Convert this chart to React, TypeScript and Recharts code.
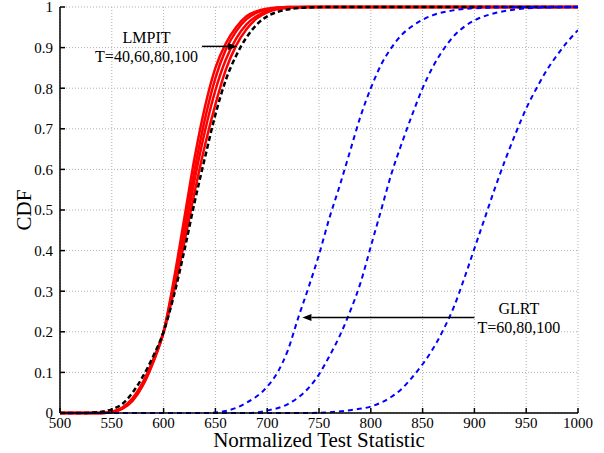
import React from 'react';
import { LineChart, Line, XAxis, YAxis, CartesianGrid, ReferenceLine, ReferenceDot, Label } from 'recharts';

// Tick labels
const xTicks = [500, 550, 600, 650, 700, 750, 800, 850, 900, 950, 1000];
const yTicks = [0, 0.1, 0.2, 0.3, 0.4, 0.5, 0.6, 0.7, 0.8, 0.9, 1];

// LMPIT (T=40,60,80,100) — red solid curves
const lmpitX = [500, 530, 540, 550, 560, 570, 580, 590, 600, 610, 620, 630, 640, 650, 660, 670, 680, 690, 700, 710, 720, 740, 1000];
const lmpitT40 = [0, 0, 0, 0.002, 0.01, 0.03, 0.068, 0.125, 0.2, 0.33, 0.48, 0.63, 0.755, 0.85, 0.91, 0.95, 0.977, 0.99, 0.996, 0.999, 1, 1, 1];
const lmpitT60 = [0, 0, 0, 0.002, 0.011, 0.032, 0.07, 0.127, 0.2, 0.32, 0.46, 0.6, 0.725, 0.825, 0.895, 0.94, 0.97, 0.986, 0.994, 0.998, 1, 1, 1];
const lmpitT80 = [0, 0, 0, 0.003, 0.012, 0.034, 0.073, 0.13, 0.2, 0.31, 0.44, 0.575, 0.695, 0.795, 0.87, 0.922, 0.957, 0.978, 0.99, 0.996, 0.999, 1, 1];
const lmpitT100 = [0, 0, 0, 0.003, 0.013, 0.036, 0.076, 0.132, 0.2, 0.3, 0.42, 0.545, 0.66, 0.76, 0.845, 0.905, 0.945, 0.972, 0.987, 0.995, 0.998, 1, 1];

// Asymptotic reference — black dashed
const asympX = [500, 520, 530, 540, 550, 560, 570, 580, 590, 600, 610, 620, 630, 640, 650, 660, 670, 680, 690, 700, 710, 720, 740, 760, 1000];
const asympY = [0, 0, 0.001, 0.003, 0.009, 0.022, 0.05, 0.09, 0.14, 0.2, 0.29, 0.4, 0.52, 0.63, 0.735, 0.82, 0.88, 0.925, 0.957, 0.977, 0.988, 0.994, 0.999, 1, 1];

// GLRT (T=60,80,100) — blue dashed curves
const glrtAX = [500, 640, 660, 680, 700, 710, 720, 730, 740, 750, 760, 770, 780, 790, 800, 810, 820, 830, 840, 860, 880, 900, 950, 1000];
const glrtAY = [0, 0, 0.005, 0.025, 0.065, 0.1, 0.155, 0.235, 0.31, 0.39, 0.48, 0.56, 0.645, 0.73, 0.8, 0.858, 0.9, 0.932, 0.953, 0.98, 0.992, 0.997, 1, 1];
const glrtBX = [500, 680, 700, 720, 740, 750, 760, 770, 780, 790, 800, 810, 820, 830, 840, 850, 860, 870, 880, 890, 900, 920, 940, 960, 1000];
const glrtBY = [0, 0, 0.006, 0.022, 0.062, 0.095, 0.14, 0.19, 0.25, 0.32, 0.41, 0.5, 0.59, 0.665, 0.735, 0.8, 0.853, 0.895, 0.928, 0.951, 0.967, 0.985, 0.994, 0.998, 1];
const glrtCX = [500, 740, 760, 780, 800, 820, 830, 840, 850, 860, 870, 880, 890, 900, 910, 920, 930, 940, 950, 960, 970, 980, 990, 1000];
const glrtCY = [0, 0, 0.002, 0.007, 0.016, 0.04, 0.06, 0.088, 0.12, 0.158, 0.205, 0.26, 0.33, 0.405, 0.48, 0.555, 0.625, 0.69, 0.75, 0.8, 0.845, 0.882, 0.915, 0.943];

const toPoints = (xs: number[], ys: number[]) => xs.map((x, i) => ({ x, y: ys[i] }));

const FONT = '"Liberation Serif", "Times New Roman", serif';

const Arrow = (props: any) => {
  const { x1, y1, x2, y2 } = props;
  const ang = Math.atan2(y2 - y1, x2 - x1);
  const L = 9, W = 3.5;
  const bx = x2 - L * Math.cos(ang), by = y2 - L * Math.sin(ang);
  const px = -Math.sin(ang) * W, py = Math.cos(ang) * W;
  return (
    <g>
      <line x1={x1} y1={y1} x2={bx} y2={by} stroke="#000" strokeWidth={1.5} />
      <polygon points={`${x2},${y2} ${bx + px},${by + py} ${bx - px},${by - py}`} fill="#000" />
    </g>
  );
};

const textShape = (txt: string) => (p: any) => (
  <text x={p.cx} y={p.cy} textAnchor="middle" dominantBaseline="central" fontFamily={FONT} fontSize={16} fill="#000">{txt}</text>
);

const tickStyle = { fill: '#000', fontSize: 15, fontFamily: FONT };

export default function App() {
  return (
    <div style={{ position: 'absolute', left: 0, top: 0, width: 604, height: 453, background: '#fff' }}>
      <LineChart width={604} height={453} margin={{ top: 7, right: 26, bottom: 0, left: 0 }}>
        <CartesianGrid stroke="#b0b0b0" strokeDasharray="1 2" />
        <XAxis dataKey="x" type="number" domain={[500, 1000]} ticks={xTicks} interval={0} allowDataOverflow height={40}
          tickSize={-5} tickMargin={9} stroke="#000" strokeWidth={1.5} tick={tickStyle}>
          <Label content={(p: any) => {
            const vb = p.viewBox;
            return <text x={vb.x + vb.width / 2} y={vb.y + 34} textAnchor="middle" fontFamily={FONT} fontSize={21} fill="#000">Normalized Test Statistic</text>;
          }} />
        </XAxis>
        <XAxis xAxisId="top" orientation="top" type="number" domain={[500, 1000]} ticks={xTicks} interval={0} height={0}
          tickSize={-5} tick={false} stroke="#000" strokeWidth={1.5} />
        <YAxis type="number" domain={[0, 1]} ticks={yTicks} interval={0} width={60} tickSize={-5} tickMargin={12}
          stroke="#000" strokeWidth={1.5} tick={tickStyle}>
          <Label content={(p: any) => {
            const vb = p.viewBox;
            const cx = 31, cy = vb.y + vb.height / 2;
            return <text x={cx} y={cy} transform={`rotate(-90 ${cx} ${cy})`} textAnchor="middle" fontFamily={FONT} fontSize={21} fill="#000">CDF</text>;
          }} />
        </YAxis>
        <YAxis yAxisId="right" orientation="right" type="number" domain={[0, 1]} ticks={yTicks} interval={0} width={0}
          tickSize={-5} tick={false} stroke="#000" strokeWidth={1.5} />

        <Line data={toPoints(lmpitX, lmpitT40)} dataKey="y" type="monotone" stroke="#ff0000" strokeWidth={2.5} dot={false} isAnimationActive={false} />
        <Line data={toPoints(lmpitX, lmpitT60)} dataKey="y" type="monotone" stroke="#ff0000" strokeWidth={2.5} dot={false} isAnimationActive={false} />
        <Line data={toPoints(lmpitX, lmpitT80)} dataKey="y" type="monotone" stroke="#ff0000" strokeWidth={2.5} dot={false} isAnimationActive={false} />
        <Line data={toPoints(lmpitX, lmpitT100)} dataKey="y" type="monotone" stroke="#ff0000" strokeWidth={2.5} dot={false} isAnimationActive={false} />
        <Line data={toPoints(asympX, asympY)} dataKey="y" type="monotone" stroke="#000" strokeWidth={2.5} strokeDasharray="5 3" dot={false} isAnimationActive={false} />
        <Line data={toPoints(glrtAX, glrtAY)} dataKey="y" type="monotone" stroke="#0000ff" strokeWidth={2} strokeDasharray="5 4" dot={false} isAnimationActive={false} />
        <Line data={toPoints(glrtBX, glrtBY)} dataKey="y" type="monotone" stroke="#0000ff" strokeWidth={2} strokeDasharray="5 4" dot={false} isAnimationActive={false} />
        <Line data={toPoints(glrtCX, glrtCY)} dataKey="y" type="monotone" stroke="#0000ff" strokeWidth={2} strokeDasharray="5 4" dot={false} isAnimationActive={false} />

        <ReferenceLine segment={[{ x: 637, y: 0.903 }, { x: 671, y: 0.903 }]} shape={Arrow} />
        <ReferenceLine segment={[{ x: 900, y: 0.235 }, { x: 734, y: 0.235 }]} shape={Arrow} />
        <ReferenceDot x={583.5} y={0.924} r={0} shape={textShape('LMPIT')} />
        <ReferenceDot x={583.5} y={0.878} r={0} shape={textShape('T=40,60,80,100')} />
        <ReferenceDot x={943} y={0.257} r={0} shape={textShape('GLRT')} />
        <ReferenceDot x={943} y={0.21} r={0} shape={textShape('T=60,80,100')} />
      </LineChart>
    </div>
  );
}
